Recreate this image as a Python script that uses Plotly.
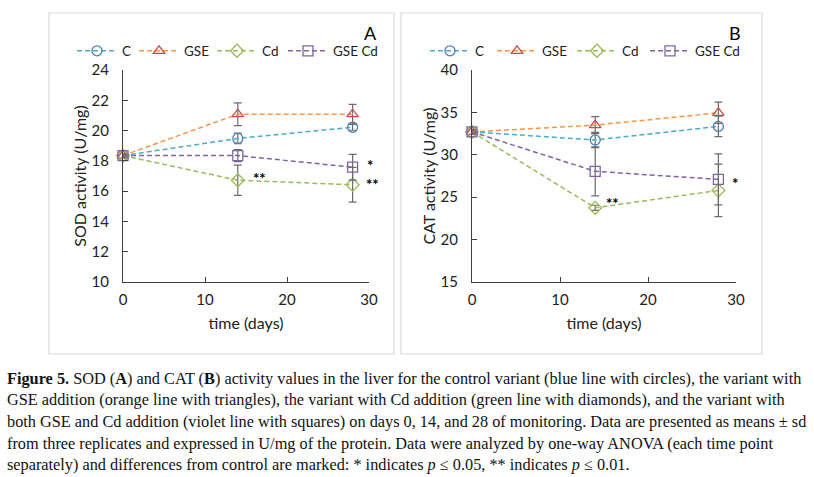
import plotly.graph_objects as go

# days of monitoring
days = [0, 14, 28]
series_names = ["C", "GSE", "Cd", "GSE Cd"]

# SOD activity (U/mg), panel A
sod_c = [18.35, 19.48, 20.22]
sod_gse = [18.35, 21.08, 21.08]
sod_cd = [18.35, 16.72, 16.42]
sod_gsecd = [18.35, 18.35, 17.58]
sod_c_sd = [0.1, 0.35, 0.2]
sod_gse_sd = [0.1, 0.75, 0.65]
sod_cd_sd = [0.1, 1.0, 1.15]
sod_gsecd_sd = [0.1, 0.4, 0.85]

# CAT activity (U/mg), panel B
cat_c = [32.7, 31.75, 33.35]
cat_gse = [32.7, 33.5, 34.95]
cat_cd = [32.7, 23.75, 25.8]
cat_gsecd = [32.7, 28.05, 27.1]
cat_c_sd = [0.2, 0.9, 1.2]
cat_gse_sd = [0.2, 1.0, 1.25]
cat_cd_sd = [0.2, 0.3, 3.1]
cat_gsecd_sd = [0.2, 2.9, 3.0]

# significance marks: (day, value, shift in px to the right, text)
sod_marks = [(14, 16.9, 22, "**"), (28, 17.7, 17, "*"), (28, 16.45, 20, "**")]
cat_marks = [(14, 24.3, 17, "**"), (28, 26.7, 17, "*")]

W, H = 814, 477
FONT = "Lato"

line_colors = ["#4BACC6", "#F79646", "#9BBB59", "#8064A2"]
marker_colors = ["#4F81BD", "#C0504D", "#9BBB59", "#8064A2"]
symbols = ["circle-open", "triangle-up-open", "diamond-open", "square-open"]
# legend text slot per entry, px (the reference spaces them unevenly)
legend_slots = {"legend": [7, 23, 16, 45], "legend2": [12, 25, 18, 45]}

fig = go.Figure()

panels = [
    ("x", "y", "legend", [sod_c, sod_gse, sod_cd, sod_gsecd],
     [sod_c_sd, sod_gse_sd, sod_cd_sd, sod_gsecd_sd]),
    ("x2", "y2", "legend2", [cat_c, cat_gse, cat_cd, cat_gsecd],
     [cat_c_sd, cat_gse_sd, cat_cd_sd, cat_gsecd_sd]),
]

for xa, ya, leg, vals, sds in panels:
    for i, name in enumerate(series_names):
        fig.add_trace(go.Scatter(
            x=days, y=vals[i], name=name, xaxis=xa, yaxis=ya, legend=leg,
            legendwidth=legend_slots[leg][i],
            mode="lines+markers", cliponaxis=False,
            line=dict(color=line_colors[i], width=1.5, dash="5px,3px"),
            marker=dict(symbol=symbols[i], size=10, color=marker_colors[i],
                        line=dict(width=1.3, color=marker_colors[i])),
            error_y=dict(type="data", array=sds[i], visible=True,
                         color="#6b6b6b", thickness=1.2, width=4),
        ))

def px_x(p):
    return p / W

def px_y(p):
    return 1 - p / H

axis_common = dict(
    showline=True, linecolor="#404040", linewidth=1.2,
    ticks="inside", ticklen=5, tickcolor="#404040",
    showgrid=False, zeroline=False, automargin=False,
    tickfont=dict(family=FONT, size=15, color="#222"),
)

legend_common = dict(orientation="h", xanchor="left", yanchor="middle",
                     font=dict(size=13.5, family=FONT), itemwidth=40,
                     entrywidthmode="pixels",
                     bgcolor="rgba(0,0,0,0)", itemclick=False)

fig.update_layout(
    template="none",
    width=W, height=H,
    margin=dict(l=0, r=0, t=0, b=0, pad=0),
    paper_bgcolor="white", plot_bgcolor="white",
    font=dict(family=FONT, color="#222"),
    xaxis=dict(domain=[px_x(123), px_x(369)], range=[0, 30], dtick=10,
               anchor="y", ticklabelstandoff=4,
               title=dict(text="time (days)", font=dict(size=16), standoff=10),
               **axis_common),
    yaxis=dict(domain=[px_y(282), px_y(70)], range=[10, 24], dtick=2,
               anchor="x", ticklabelstandoff=10,
               title=dict(text="SOD activity (U/mg)", font=dict(size=16), standoff=0),
               **axis_common),
    xaxis2=dict(domain=[px_x(472), px_x(736)], range=[0, 30], dtick=10,
                anchor="y2", ticklabelstandoff=4,
                title=dict(text="time (days)", font=dict(size=16), standoff=10),
                **axis_common),
    yaxis2=dict(domain=[px_y(282), px_y(70)], range=[15, 40], dtick=5,
                anchor="x2", ticklabelstandoff=10,
                title=dict(text="CAT activity (U/mg)", font=dict(size=16), standoff=0),
                **axis_common),
    legend=dict(x=px_x(72), y=px_y(51), **legend_common),
    legend2=dict(x=px_x(425), y=px_y(51), **legend_common),
)

# panel frames
for x0, x1 in [(49, 394), (401, 762)]:
    fig.add_shape(type="rect", xref="paper", yref="paper",
                  x0=px_x(x0), x1=px_x(x1), y0=px_y(354), y1=px_y(13),
                  line=dict(color="#d9d9d9", width=1.2))

# panel letters
for letter, xp in [("A", 370), ("B", 735)]:
    fig.add_annotation(text=letter, x=px_x(xp), y=px_y(33), xref="paper", yref="paper",
                       xanchor="center", yanchor="middle", showarrow=False,
                       font=dict(size=18, family=FONT, color="#000"))

for xa, ya, marks in [("x", "y", sod_marks), ("x2", "y2", cat_marks)]:
    for d, v, sh, t in marks:
        fig.add_annotation(text="<b>" + t + "</b>", x=d, y=v, xref=xa, yref=ya,
                           xshift=sh, xanchor="center", yanchor="middle",
                           showarrow=False, font=dict(size=15, family=FONT, color="#000"))

caption = [
    "<b>Figure 5.</b> SOD (<b>A</b>) and CAT (<b>B</b>) activity values in the liver for the control variant (blue line with circles), the variant with",
    "GSE addition (orange line with triangles), the variant with Cd addition (green line with diamonds), and the variant with",
    "both GSE and Cd addition (violet line with squares) on days 0, 14, and 28 of monitoring. Data are presented as means \u00b1 sd",
    "from three replicates and expressed in U/mg of the protein. Data were analyzed by one-way ANOVA (each time point",
    "separately) and differences from control are marked: * indicates <i>p</i> \u2264 0.05, ** indicates <i>p</i> \u2264 0.01.",
]
for k, line in enumerate(caption):
    fig.add_annotation(text=line, x=px_x(5), y=px_y(378 + 21.7 * k),
                       xref="paper", yref="paper", xanchor="left", yanchor="middle",
                       showarrow=False, align="left",
                       font=dict(size=16.3, family="Liberation Serif", color="#111"))

# page body has a default 8px margin; drop it so the figure sits at the corner
fig.write_html("out.html", config={"displayModeBar": False},
               post_script="document.body.style.margin = '0';")
